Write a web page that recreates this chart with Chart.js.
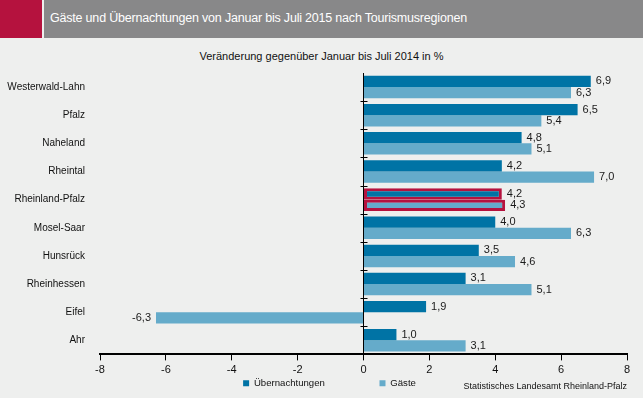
<!DOCTYPE html>
<html>
<head>
<meta charset="utf-8">
<script src="https://cdn.jsdelivr.net/npm/chart.js@4"></script>
<style>
  body { margin: 0; background: #eeefee; font-family: "Liberation Sans", Arial, sans-serif; }
  #page { position: relative; width: 643px; height: 398px; overflow: hidden; }
  #redBlock { position: absolute; left: 0; top: 0; width: 42px; height: 38px; background: #b5123e; }
  #titleBar { position: absolute; left: 44px; top: 0; width: 599px; height: 38px; background: #888889; }
  #title { position: absolute; left: 50px; top: 11px; color: #fff; font-size: 12.5px; letter-spacing: -0.2px; }
  #subtitle { position: absolute; left: 0; width: 643px; top: 50px; text-align: center; font-size: 11px; color: #111; }
  #source { position: absolute; right: 16px; top: 381px; font-size: 9px; color: #111; }
  #chartBox { position: absolute; left: 0; top: 40px; width: 643px; height: 358px; }
</style>
</head>
<body>
<div id="page">
  <div id="redBlock"></div>
  <div id="titleBar"></div>
  <div id="title">Gäste und Übernachtungen von Januar bis Juli 2015 nach Tourismusregionen</div>
  <div id="subtitle">Veränderung gegenüber Januar bis Juli 2014 in %</div>
  <div id="chartBox"><canvas id="chart"></canvas></div>
  <div id="source">Statistisches Landesamt Rheinland-Pfalz</div>
</div>
<script>
const REGIONS = ["Westerwald-Lahn", "Pfalz", "Naheland", "Rheintal", "Rheinland-Pfalz",
  "Mosel-Saar", "Hunsrück", "Rheinhessen", "Eifel", "Ahr"];
const UEBERNACHTUNGEN = [6.9, 6.5, 4.8, 4.2, 4.2, 4.0, 3.5, 3.1, 1.9, 1.0];
const GAESTE = [6.3, 5.4, 5.1, 7.0, 4.3, 6.3, 4.6, 5.1, -6.3, 3.1];
const HIGHLIGHT = "Rheinland-Pfalz";

const DARK = "#0073a5";
const LIGHT = "#65abca";
const RED = "#b5123e";
const FONT = "'Liberation Sans', Arial, sans-serif";

function formatValue(v) {
  return v.toFixed(1).replace(".", ",");
}

const highlightIndex = REGIONS.indexOf(HIGHLIGHT);

// value labels at the bar ends
const valueLabels = {
  id: "valueLabels",
  afterDatasetsDraw(chart) {
    const ctx = chart.ctx;
    ctx.save();
    ctx.font = "11px " + FONT;
    ctx.fillStyle = "#1a1a1a";
    ctx.textBaseline = "middle";
    chart.data.datasets.forEach((ds, di) => {
      const meta = chart.getDatasetMeta(di);
      meta.data.forEach((bar, i) => {
        const v = ds.data[i];
        if (v >= 0) {
          ctx.textAlign = "left";
          ctx.fillText(formatValue(v), bar.x + 5, bar.y);
        } else {
          ctx.textAlign = "right";
          ctx.fillText(formatValue(v), bar.x - 5, bar.y);
        }
      });
    });
    ctx.restore();
  },
};

// small marks on the zero line between categories
const zeroMarks = {
  id: "zeroMarks",
  afterDatasetsDraw(chart) {
    const ctx = chart.ctx;
    const x0 = chart.scales.x.getPixelForValue(0);
    const yScale = chart.scales.y;
    ctx.save();
    ctx.strokeStyle = "#000";
    ctx.lineWidth = 1;
    for (let i = 0; i < REGIONS.length - 1; i++) {
      const y = Math.round((yScale.getPixelForValue(i) + yScale.getPixelForValue(i + 1)) / 2) + 0.5;
      ctx.beginPath();
      ctx.moveTo(x0 - 3, y);
      ctx.lineTo(x0 + 4, y);
      ctx.stroke();
    }
    ctx.restore();
  },
};

// nudge the legend a bit to the right, like the original
const legendShift = {
  id: "legendShift",
  afterLayout(chart) {
    chart.legend.left += 16;
    chart.legend.right += 16;
  },
};

new Chart(document.getElementById("chart"), {
  type: "bar",
  data: {
    labels: REGIONS,
    datasets: [
      {
        label: "Übernachtungen",
        data: UEBERNACHTUNGEN,
        backgroundColor: DARK,
        borderColor: RED,
        borderWidth: (c) => (c.dataIndex === highlightIndex ? 3 : 0),
        borderSkipped: false,
        categoryPercentage: 0.8,
        barPercentage: 1,
      },
      {
        label: "Gäste",
        data: GAESTE,
        backgroundColor: LIGHT,
        borderColor: RED,
        borderWidth: (c) => (c.dataIndex === highlightIndex ? 3 : 0),
        borderSkipped: false,
        categoryPercentage: 0.8,
        barPercentage: 1,
      },
    ],
  },
  options: {
    indexAxis: "y",
    responsive: true,
    maintainAspectRatio: false,
    animation: false,
    layout: { padding: { top: 33, right: 16, left: 0, bottom: 0 } },
    scales: {
      x: {
        min: -8,
        max: 8,
        ticks: {
          stepSize: 2,
          color: "#111",
          font: { size: 11, family: FONT },
          padding: 3,
        },
        grid: {
          color: (c) => (c.tick && c.tick.value === 0 ? "#000" : "rgba(0,0,0,0)"),
          tickColor: "#000",
          tickLength: 6,
          lineWidth: 1,
        },
        border: { color: "#000", width: 2 },
        afterFit(scale) {
          scale.height = 20;
        },
      },
      y: {
        ticks: {
          color: "#111",
          font: { size: 10, family: FONT },
          padding: 7,
        },
        grid: { display: false },
        border: { display: false },
        afterFit(scale) {
          scale.width = 100;
        },
      },
    },
    plugins: {
      legend: {
        position: "bottom",
        labels: {
          boxWidth: 6,
          boxHeight: 6,
          padding: 4,
          color: "#111",
          font: { size: 9.6, family: FONT },
          generateLabels(chart) {
            const items = Chart.defaults.plugins.legend.labels.generateLabels(chart);
            // wide gap between the two entries
            items[0].text = items[0].text + "                   ";
            return items;
          },
        },
      },
      tooltip: { enabled: false },
    },
  },
  plugins: [valueLabels, zeroMarks, legendShift],
});
</script>
</body>
</html>
